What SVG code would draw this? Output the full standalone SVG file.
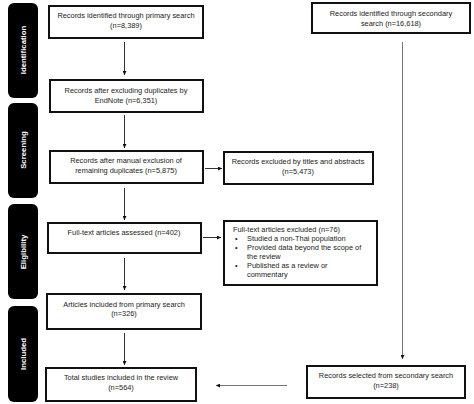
<svg xmlns="http://www.w3.org/2000/svg" width="474" height="404" viewBox="0 0 474 404">
<defs>
<style>
.box{fill:#fff;stroke:#111;stroke-width:2}
.bar{fill:#000}
.t{font-family:"Liberation Sans",Arial,sans-serif;font-size:7.4px;fill:#222}
.c{text-anchor:middle}
.lbl{font-family:"Liberation Sans",Arial,sans-serif;font-size:7.8px;font-weight:bold;fill:#fff;text-anchor:middle}
.ln{stroke:#333;stroke-width:1;fill:none}
.lg{stroke:#777;stroke-width:1;fill:none}
</style>
<marker id="ah" viewBox="0 0 6 6" refX="6" refY="3" markerWidth="4" markerHeight="4" orient="auto" markerUnits="userSpaceOnUse">
<path d="M0,0 L6,3 L0,6 z" fill="#111"/>
</marker>
</defs>
<rect width="474" height="404" fill="#fff"/>
<g id="phase-identification"><rect class="bar" x="8" y="3" width="30" height="95" rx="6"/><text class="lbl" transform="translate(25.5,50) rotate(-90)">Identification</text></g>
<g id="phase-screening"><rect class="bar" x="8" y="103" width="30" height="95" rx="6"/><text class="lbl" transform="translate(25.5,150) rotate(-90)">Screening</text></g>
<g id="phase-eligibility"><rect class="bar" x="8" y="204" width="30" height="95" rx="6"/><text class="lbl" transform="translate(25.5,252) rotate(-90)">Eligibility</text></g>
<g id="phase-included"><rect class="bar" x="8" y="306" width="30" height="96" rx="6"/><text class="lbl" transform="translate(25.5,354) rotate(-90)">Included</text></g>

<g id="n1"><rect class="box" x="49" y="6" width="154" height="32"/><text class="t c" x="126" y="17.5">Records identified through primary search</text><text class="t c" x="126" y="27.5">(n=8,389)</text></g>
<g id="n2"><rect class="box" x="50" y="80" width="153" height="32"/><text class="t c" x="126" y="92.5">Records after excluding duplicates by</text><text class="t c" x="126" y="102.5">EndNote (n=6,351)</text></g>
<g id="n3"><rect class="box" x="50" y="151" width="153" height="32"/><text class="t c" x="126" y="162.5">Records after manual exclusion of</text><text class="t c" x="126" y="173">remaining duplicates (n=5,875)</text></g>
<g id="n4"><rect class="box" x="224" y="152" width="149" height="32"/><text class="t c" x="298" y="163.5">Records excluded by titles and abstracts</text><text class="t c" x="298" y="174">(n=5,473)</text></g>
<g id="n5"><rect class="box" x="48" y="223" width="153" height="30"/><text class="t c" x="124" y="234.5">Full-text articles assessed (n=402)</text></g>
<g id="n6"><rect class="box" x="224" y="221" width="153" height="64"/>
<text class="t" x="233" y="232">Full-text articles excluded (n=76)</text>
<text class="t" x="235" y="241">•</text><text class="t" x="247" y="241">Studied a non-Thai population</text>
<text class="t" x="235" y="250">•</text><text class="t" x="247" y="250">Provided data beyond the scope of</text>
<text class="t" x="247" y="259">the review</text>
<text class="t" x="235" y="268">•</text><text class="t" x="247" y="268">Published as a review or</text>
<text class="t" x="247" y="277">commentary</text></g>
<g id="n7"><rect class="box" x="47" y="294" width="154" height="35"/><text class="t c" x="124" y="306.5">Articles included from primary search</text><text class="t c" x="124" y="316">(n=326)</text></g>
<g id="n8"><rect class="box" x="46" y="368" width="150" height="33"/><text class="t c" x="121" y="380">Total studies included in the review</text><text class="t c" x="121" y="390">(n=564)</text></g>
<g id="n9"><rect class="box" x="312" y="3" width="158" height="30"/><text class="t c" x="391" y="16">Records identified through secondary</text><text class="t c" x="391" y="26">search (n=16,618)</text></g>
<g id="n10"><rect class="box" x="307" y="366" width="158" height="32"/><text class="t c" x="386" y="377.5">Records selected from secondary search</text><text class="t c" x="386" y="387.5">(n=238)</text></g>

<g id="connectors">
<line class="ln" x1="124.5" y1="42" x2="124.5" y2="75" marker-end="url(#ah)"/>
<line class="ln" x1="124.5" y1="115" x2="124.5" y2="148" marker-end="url(#ah)"/>
<line class="ln" x1="124.5" y1="188" x2="124.5" y2="220" marker-end="url(#ah)"/>
<line class="ln" x1="124.5" y1="258" x2="124.5" y2="290" marker-end="url(#ah)"/>
<line class="ln" x1="124.5" y1="333" x2="124.5" y2="365" marker-end="url(#ah)"/>
<line class="ln" x1="205" y1="168.5" x2="222" y2="168.5" marker-end="url(#ah)"/>
<line class="ln" x1="203" y1="237.5" x2="221" y2="237.5" marker-end="url(#ah)"/>
<line class="lg" x1="402.5" y1="42" x2="402.5" y2="359" marker-end="url(#ah)"/>
<line class="lg" x1="287" y1="385.5" x2="216" y2="385.5" marker-end="url(#ah)"/>
</g>
</svg>
